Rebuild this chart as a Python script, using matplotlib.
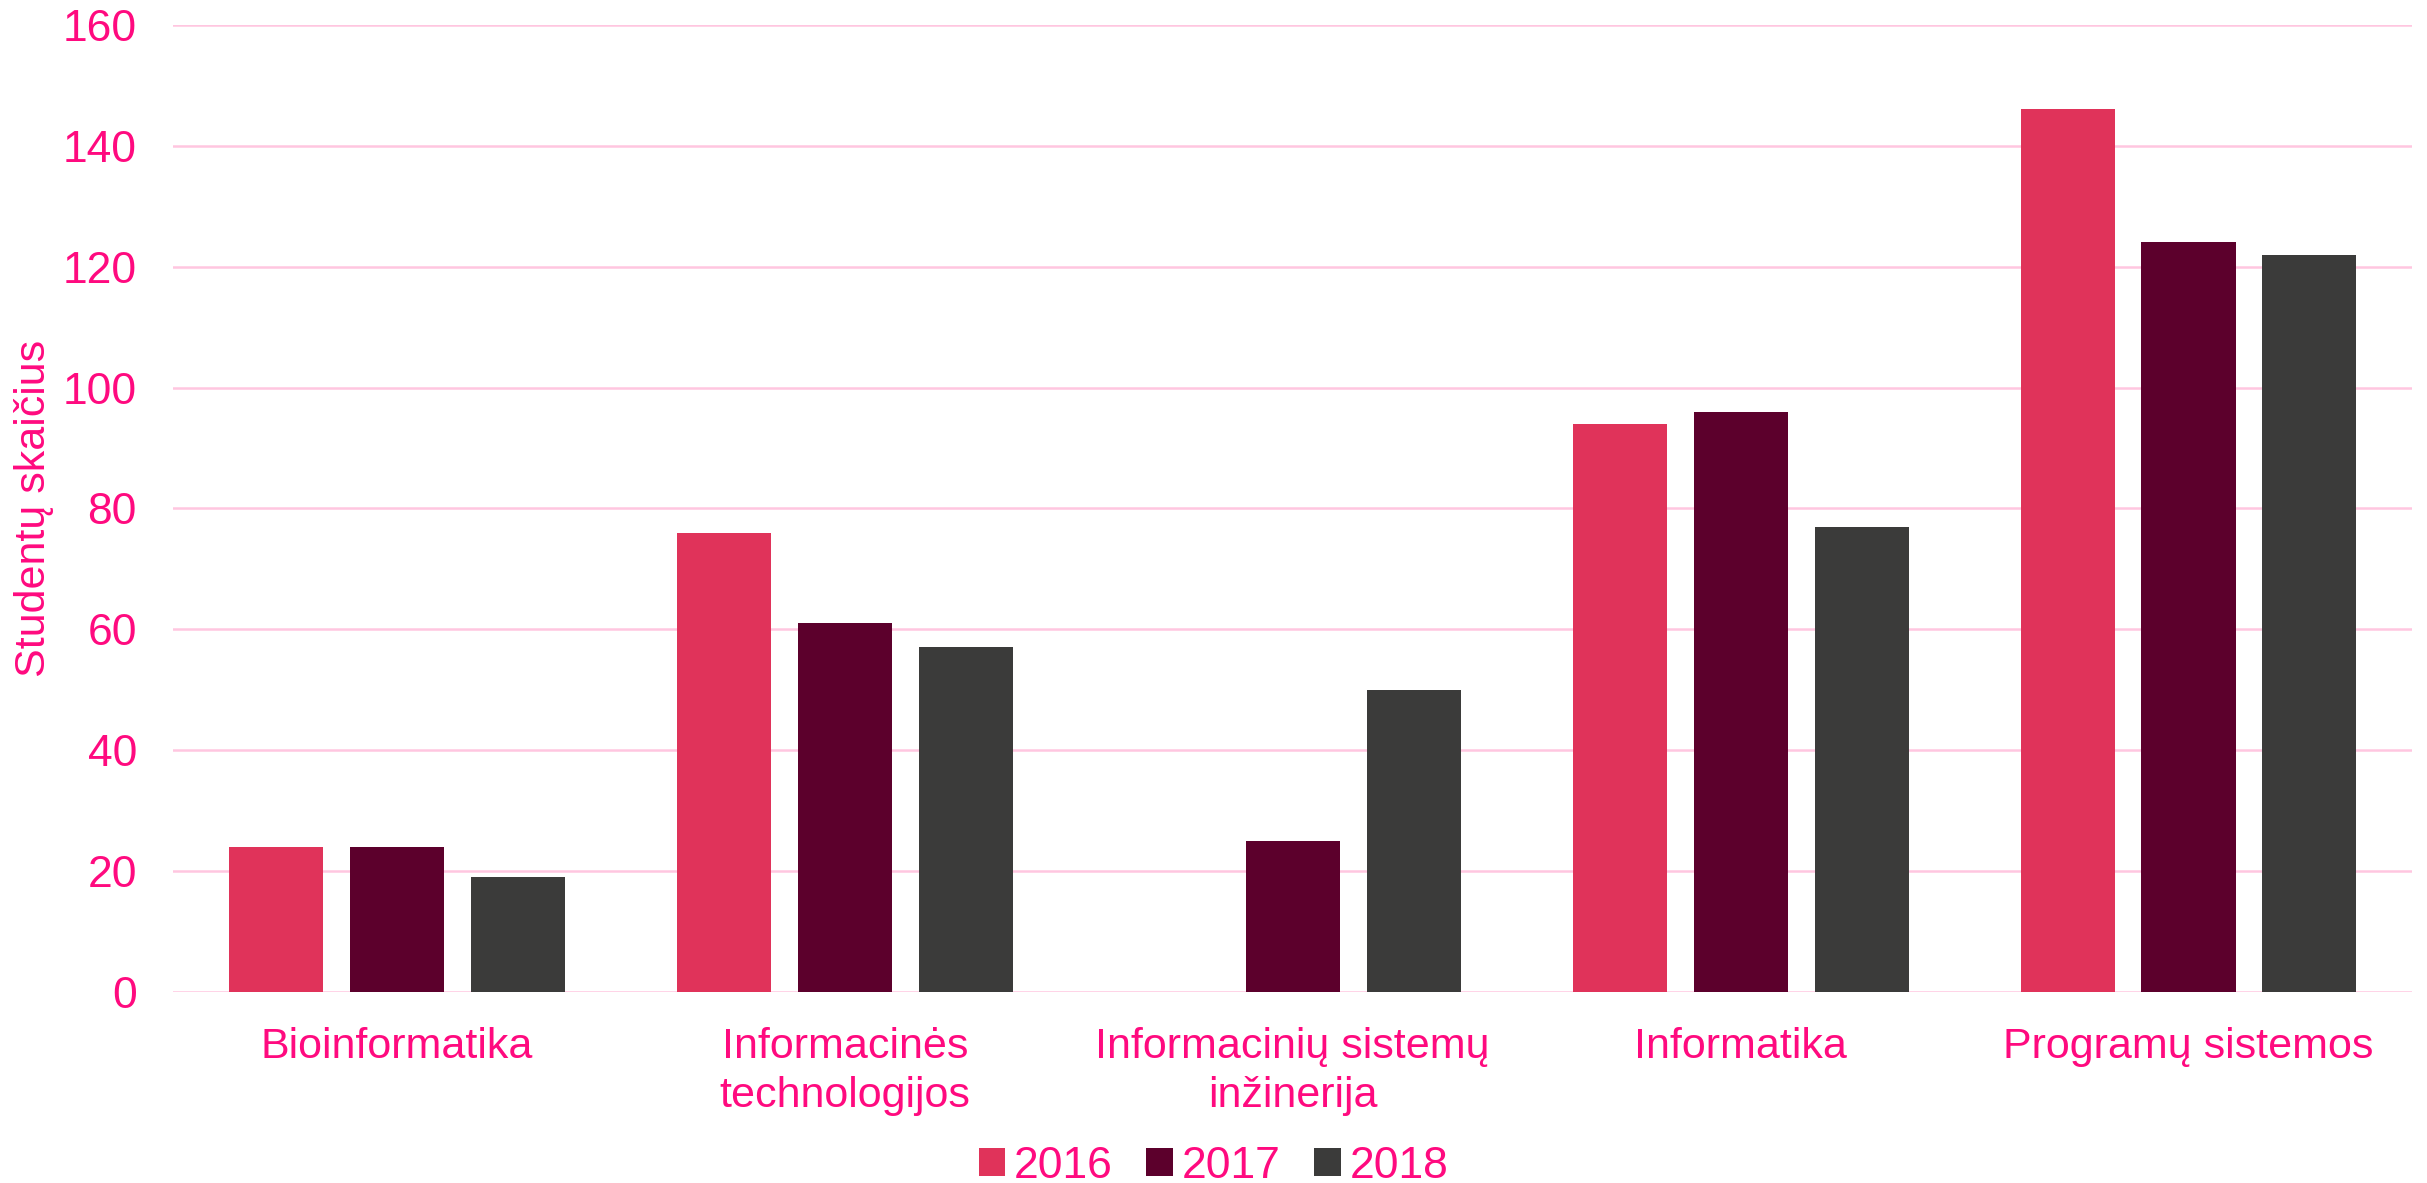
import numpy as np
import matplotlib.pyplot as plt

plt.rcParams['font.family'] = ['Liberation Sans', 'DejaVu Sans']

# data
categories = ['Bioinformatika', 'Informacinės\ntechnologijos', 'Informacinių sistemų\ninžinerija',
              'Informatika', 'Programų sistemos']
years = ['2016', '2017', '2018']
v2016 = [24, 76, 0, 94, 146]
v2017 = [24, 61, 25, 96, 124]
v2018 = [19, 57, 50, 77, 122]

colors = ['#E0335A', '#5C002C', '#3B3B3A']
txt = '#FF0A7F'
grid = '#FFC6E0'
fs = 32

fig = plt.figure(figsize=(24.27, 11.83), dpi=100)
ax = fig.add_axes([0.0713, 0.1615, 0.9227, 0.8175])

x = np.arange(len(categories))
w = 0.21
step = 0.27
for i, (vals, lab) in enumerate(zip([v2016, v2017, v2018], years)):
    ax.bar(x + (i - 1) * step, vals, width=w, color=colors[i], label=lab, zorder=2)

ax.set_xlim(-0.5, len(categories) - 0.5)
ax.set_ylim(0, 160)
ax.set_yticks(np.arange(0, 161, 20))
ax.yaxis.grid(True, color=grid, linewidth=1.8, zorder=0)
ax.set_axisbelow(True)
for s in ax.spines.values():
    s.set_visible(False)

ax.set_xticks(x)
ax.set_xticklabels(categories, fontsize=31, color=txt, linespacing=1.3)
ax.tick_params(axis='x', length=0, pad=25)
ax.tick_params(axis='y', length=0, pad=26, labelsize=fs, labelcolor=txt)

# y label placed in figure coords, centred on the plot area
fig.text(34 / 2427, 0.1615 + 0.8175 / 2, 'Studentų skaičius', rotation=90,
         ha='center', va='center', fontsize=31, color=txt)

fig.legend(loc='center', bbox_to_anchor=(0.5, 0.014), ncol=3, frameon=False,
           fontsize=fs, labelcolor=txt, handlelength=0.6, handleheight=0.6,
           handletextpad=0.2, columnspacing=0.75)

fig.savefig('out.png', dpi=100)
